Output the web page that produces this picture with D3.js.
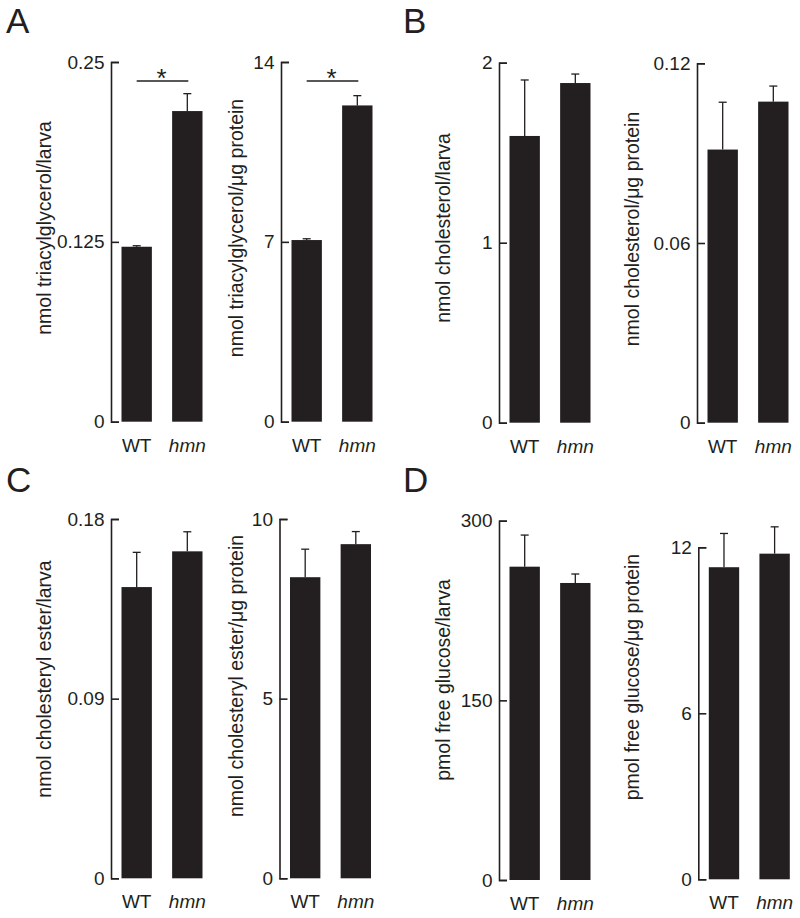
<!DOCTYPE html>
<html><head><meta charset="utf-8">
<script src="https://cdn.jsdelivr.net/npm/d3@7"></script>
<style>body{margin:0;background:#fff}</style>
</head><body>
<svg id="c" width="800" height="918"></svg>
<script>
// ---- data ----
const groups = ["WT", "hmn"];
const panelLetters = ["A", "B", "C", "D"];

const tagLarvaMean = [0.1216, 0.2159],   tagLarvaErr = [0.0007, 0.0121],   tagLarvaTicks = [0, 0.125, 0.25];
const tagProtMean  = [7.07, 12.31],      tagProtErr  = [0.05, 0.38],       tagProtTicks  = [0, 7, 14];
const cholLarvaMean = [1.593, 1.887],    cholLarvaErr = [0.311, 0.05],     cholLarvaTicks = [0, 1, 2];
const cholProtMean  = [0.0912, 0.1072],  cholProtErr  = [0.0158, 0.0052],  cholProtTicks  = [0, 0.06, 0.12];
const ceLarvaMean = [0.1459, 0.1638],    ceLarvaErr = [0.0174, 0.0098],    ceLarvaTicks = [0, 0.09, 0.18];
const ceProtMean  = [8.38, 9.30],        ceProtErr  = [0.78, 0.35],        ceProtTicks  = [0, 5, 10];
const gluLarvaMean = [261.6, 248.0],     gluLarvaErr = [26.4, 7.5],        gluLarvaTicks = [0, 150, 300];
const gluProtMean  = [11.28, 11.77],     gluProtErr  = [1.22, 0.97],       gluProtTicks  = [0, 6, 12];

const yLabels = [
  "nmol triacylglycerol/larva", "nmol triacylglycerol/\u03BCg protein",
  "nmol cholesterol/larva", "nmol cholesterol/\u03BCg protein",
  "nmol cholesteryl ester/larva", "nmol cholesteryl ester/\u03BCg protein",
  "pmol free glucose/larva", "pmol free glucose/\u03BCg protein"
];
const significant = [true, true, false, false, false, false, false, false];

const charts = [
  {mean: tagLarvaMean, err: tagLarvaErr, ticks: tagLarvaTicks},
  {mean: tagProtMean, err: tagProtErr, ticks: tagProtTicks},
  {mean: cholLarvaMean, err: cholLarvaErr, ticks: cholLarvaTicks},
  {mean: cholProtMean, err: cholProtErr, ticks: cholProtTicks},
  {mean: ceLarvaMean, err: ceLarvaErr, ticks: ceLarvaTicks},
  {mean: ceProtMean, err: ceProtErr, ticks: ceProtTicks},
  {mean: gluLarvaMean, err: gluLarvaErr, ticks: gluLarvaTicks},
  {mean: gluProtMean, err: gluProtErr, ticks: gluProtTicks}
];

// ---- layout ----
const layout = [
  {ax: 111,   top: 62,    bottom: 421.7, lx: 51,  ly: 228},
  {ax: 281,   top: 62,    bottom: 421.7, lx: 243, ly: 228},
  {ax: 499,   top: 62.7,  bottom: 422.7, lx: 450, ly: 228},
  {ax: 697,   top: 63.3,  bottom: 422.7, lx: 639, ly: 229},
  {ax: 111,   top: 519,   bottom: 878.3, lx: 51,  ly: 679},
  {ax: 279.5, top: 519,   bottom: 878.3, lx: 243, ly: 676},
  {ax: 499,   top: 520.7, bottom: 880,   lx: 450, ly: 680},
  {ax: 698.3, top: 547.3, bottom: 879.3, lx: 639, ly: 677}
];
const letterPos = [[6, 33], [403, 33], [6, 492], [403, 492]];

const ink = "#231f20";
const FONT = "'Liberation Sans', Arial, Helvetica, sans-serif";
const svg = d3.select("#c").style("font-family", FONT);

panelLetters.forEach((L, i) => {
  svg.append("text").attr("x", letterPos[i][0]).attr("y", letterPos[i][1])
    .attr("font-size", 35).attr("fill", ink).text(L);
});

charts.forEach((c, i) => {
  const p = layout[i];
  const y = d3.scaleLinear().domain([0, d3.max(c.ticks)]).range([p.bottom, p.top]);
  const x = d3.scaleBand().domain(groups).range([p.ax + 10.5, p.ax + 91.5]).paddingInner(0.4);
  const g = svg.append("g");

  // axis
  const axis = d3.axisLeft(y).tickValues(c.ticks).tickSize(-8).tickPadding(6.5)
    .tickFormat(d => String(d));
  const ag = g.append("g").attr("transform", `translate(${p.ax},0)`).call(axis);
  ag.selectAll("path, line").attr("stroke", ink).attr("stroke-width", 1.6);
  ag.selectAll("text").attr("font-size", 19).attr("fill", ink).attr("font-family", FONT);

  // bars
  g.selectAll("rect.bar").data(groups).join("rect")
    .attr("x", d => x(d)).attr("width", x.bandwidth())
    .attr("y", (d, j) => y(c.mean[j]))
    .attr("height", (d, j) => y(0) - y(c.mean[j]))
    .attr("fill", ink);

  // error bars (upper only)
  groups.forEach((d, j) => {
    const cx = x(d) + x.bandwidth() / 2;
    const y1 = y(c.mean[j]), y2 = y(c.mean[j] + c.err[j]);
    g.append("line").attr("x1", cx).attr("x2", cx).attr("y1", y1).attr("y2", y2)
      .attr("stroke", ink).attr("stroke-width", 1.3);
    g.append("line").attr("x1", cx - 4).attr("x2", cx + 4).attr("y1", y2).attr("y2", y2)
      .attr("stroke", ink).attr("stroke-width", 1.3);
  });

  // x labels
  g.selectAll("text.xl").data(groups).join("text")
    .attr("x", d => x(d) + x.bandwidth() / 2).attr("y", p.bottom + 30)
    .attr("text-anchor", "middle").attr("font-size", 19).attr("fill", ink)
    .attr("font-style", d => d === "hmn" ? "italic" : "normal")
    .text(d => d);

  // y label
  g.append("text").attr("transform", `translate(${p.lx},${p.ly}) rotate(-90)`)
    .attr("text-anchor", "middle").attr("font-size", 19.5).attr("fill", ink)
    .text(yLabels[i]);

  // significance
  if (significant[i]) {
    const x1 = x(groups[0]) + x.bandwidth() / 2, x2 = x(groups[1]) + x.bandwidth() / 2 + 1;
    const ly = p.top + 19;
    g.append("line").attr("x1", x1).attr("x2", x2).attr("y1", ly).attr("y2", ly)
      .attr("stroke", ink).attr("stroke-width", 1.4);
    g.append("text").attr("x", (x1 + x2) / 2 - 1).attr("y", ly + 6)
      .attr("text-anchor", "middle").attr("font-size", 26).attr("fill", ink).text("*");
  }
});
</script>
</body></html>
